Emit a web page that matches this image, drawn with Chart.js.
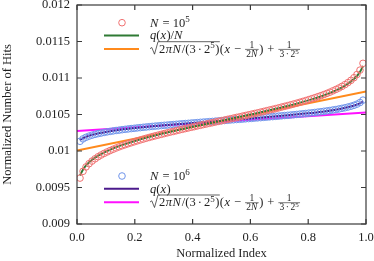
<!DOCTYPE html>
<html><head><meta charset="utf-8">
<script src="https://cdn.jsdelivr.net/npm/chart.js@4"></script>
<style>html,body{margin:0;padding:0;background:#fff;}canvas{display:block;}</style>
</head><body>
<canvas id="c" width="374" height="261"></canvas>
<script>
// ---- data ----
const binCount = 96;
const hitsN1e5 = [0.009629,0.009722,0.009782,0.009826,0.009862,0.009893,0.009921,0.009945,0.009967,0.009987,
0.010006,0.010024,0.010041,0.010057,0.010072,0.010086,0.010100,0.010113,0.010126,0.010139,
0.010151,0.010163,0.010175,0.010186,0.010197,0.010208,0.010218,0.010228,0.010239,0.010249,
0.010259,0.010268,0.010278,0.010288,0.010297,0.010307,0.010316,0.010325,0.010334,0.010344,
0.010352,0.010362,0.010370,0.010379,0.010388,0.010397,0.010406,0.010415,0.010424,0.010433,
0.010442,0.010451,0.010460,0.010468,0.010478,0.010486,0.010496,0.010505,0.010514,0.010523,
0.010533,0.010542,0.010552,0.010562,0.010571,0.010581,0.010591,0.010602,0.010612,0.010622,
0.010633,0.010644,0.010655,0.010667,0.010679,0.010691,0.010704,0.010717,0.010730,0.010744,
0.010758,0.010773,0.010789,0.010806,0.010824,0.010843,0.010863,0.010885,0.010909,0.010937,
0.010968,0.011004,0.011048,0.011108,0.011201];
const hitsN1e6 = [0.010133,0.010166,0.010188,0.010204,0.010217,0.010228,0.010238,0.010246,0.010254,0.010262,
0.010268,0.010275,0.010281,0.010286,0.010292,0.010297,0.010302,0.010307,0.010311,0.010316,
0.010320,0.010325,0.010329,0.010333,0.010337,0.010341,0.010344,0.010348,0.010352,0.010355,
0.010359,0.010362,0.010366,0.010369,0.010373,0.010376,0.010379,0.010383,0.010386,0.010389,
0.010393,0.010396,0.010399,0.010402,0.010405,0.010409,0.010412,0.010415,0.010418,0.010421,
0.010425,0.010428,0.010431,0.010434,0.010437,0.010441,0.010444,0.010447,0.010451,0.010454,
0.010457,0.010461,0.010464,0.010468,0.010471,0.010475,0.010478,0.010482,0.010486,0.010489,
0.010493,0.010497,0.010501,0.010505,0.010510,0.010514,0.010519,0.010523,0.010528,0.010533,
0.010538,0.010544,0.010549,0.010555,0.010562,0.010568,0.010576,0.010584,0.010592,0.010602,
0.010613,0.010626,0.010642,0.010664,0.010697];
const qX = [0.01,0.02,0.03,0.05,0.075,0.1,0.15,0.2,0.3,0.4,0.5,0.6,0.7,0.8,0.85,0.9,0.925,0.95,0.97,0.98,0.99];
const qN1e5 = [0.009665,0.009740,0.009796,0.009872,0.009940,0.009992,0.010073,0.010137,0.010242,0.010331,0.010415,
0.010499,0.010588,0.010693,0.010757,0.010838,0.010890,0.010958,0.011034,0.011090,0.011165];
const qN1e6 = [0.010150,0.010175,0.010192,0.010218,0.010242,0.010261,0.010291,0.010314,0.010352,0.010385,0.010415,
0.010445,0.010478,0.010516,0.010539,0.010569,0.010588,0.010612,0.010638,0.010655,0.010680];
const linX = [0, 1];
const linN1e5 = [0.010005, 0.010815];
const linN1e6 = [0.010275, 0.010528];
const xTickLabels = ['0.0','0.2','0.4','0.6','0.8','1.0'];
const yTickLabels = ['0.009','0.0095','0.01','0.0105','0.011','0.0115','0.012'];

// ---- styles ----
const FONT = '"Liberation Serif", "Times New Roman", serif';
const C_RED = '#f07070', C_BLUE = '#6f94ea', C_GREEN = '#2f7a34', C_ORANGE = '#ff8a1c',
      C_PURPLE = '#4b1a8c', C_MAGENTA = '#ff10ff', C_AXIS = '#3a3a3a', C_TEXT = '#1e1e1e';

const idx = hitsN1e5.map((_, i) => (i + 1) / binCount);
const pts = (xs, ys) => ys.map((v, i) => ({x: xs[i], y: v}));

const circle = (data, color) => ({type:'scatter', data, showLine:false, pointStyle:'circle', pointRadius:3.3,
  pointBorderWidth:1, pointBorderColor:color, pointBackgroundColor:'rgba(0,0,0,0)', borderColor:color});
const line = (data, color, mono) => ({type:'line', data, showLine:true, pointRadius:0, borderWidth:2,
  borderColor:color, backgroundColor:color, fill:false, cubicInterpolationMode: mono ? 'monotone' : 'default', tension:0});

function runs(ctx, x, y, list) {
  for (const r of list) {
    const s = r.s || 12.5;
    ctx.font = (r.i ? 'italic ' : '') + s + 'px ' + FONT;
    ctx.fillText(r.t, x, y + (r.dy || 0));
    x += ctx.measureText(r.t).width + (r.g || 0);
  }
  return x;
}
function width(ctx, list) {
  let w = 0;
  for (const r of list) { ctx.font = (r.i ? 'italic ' : '') + (r.s || 12.5) + 'px ' + FONT; w += ctx.measureText(r.t).width + (r.g||0); }
  return w;
}
function frac(ctx, x, y, num, den) {
  const wn = width(ctx, num), wd = width(ctx, den), w = Math.max(wn, wd) + 2.5;
  runs(ctx, x + (w - wn) / 2, y - 4.8, num);
  runs(ctx, x + (w - wd) / 2, y + 4, den);
  ctx.beginPath(); ctx.moveTo(x, y - 3.3); ctx.lineTo(x + w, y - 3.3); ctx.lineWidth = 0.6; ctx.strokeStyle = C_TEXT; ctx.stroke();
  return x + w;
}
function formulaLine(ctx, x, y) {
  const rad = [{t:'2',g:0.5},{t:'π',i:1,g:0.5},{t:'N',i:1,g:1},{t:'/(3',g:2},{t:'·',g:2},{t:'2'},{t:'5',s:9,dy:-4.5,g:0.5},{t:')'}];
  const x0 = x;
  const xs = x0 + 9;
  const xe = runs(ctx, xs, y, rad);
  ctx.beginPath();
  ctx.moveTo(x0, y - 4); ctx.lineTo(x0 + 1.8, y - 5.2); ctx.lineTo(x0 + 4.5, y + 1.5);
  ctx.lineTo(x0 + 8, y - 11); ctx.lineTo(xe + 0.5, y - 11);
  ctx.lineWidth = 0.7; ctx.strokeStyle = C_TEXT; ctx.stroke();
  let xx = runs(ctx, xe + 0.5, y, [{t:'(',g:0.5},{t:'x',i:1,g:4},{t:'−',g:4}]);
  xx = frac(ctx, xx, y, [{t:'1', s:9.5}], [{t:'2', s:9.5},{t:'N', i:1, s:9.5}]);
  xx = runs(ctx, xx + 0.5, y, [{t:')',g:4},{t:'+',g:4}]);
  frac(ctx, xx, y, [{t:'1', s:9.5}], [{t:'3', s:9.5, g:1.5},{t:'·', s:9.5, g:1.5},{t:'2', s:9.5},{t:'5', s:7, dy:-3}]);
}

const decor = {
  id: 'decor',
  afterDraw(chart) {
    const ctx = chart.ctx, a = chart.chartArea, xs = chart.scales.x, ys = chart.scales.y;
    ctx.save();
    ctx.strokeStyle = C_AXIS; ctx.lineWidth = 1.2;
    ctx.strokeRect(a.left, a.top, a.right - a.left, a.bottom - a.top);
    ctx.beginPath();
    xs.ticks.forEach(t => { const px = xs.getPixelForValue(t.value);
      ctx.moveTo(px, a.bottom); ctx.lineTo(px, a.bottom - 5); ctx.moveTo(px, a.top); ctx.lineTo(px, a.top + 5); });
    ys.ticks.forEach(t => { const py = ys.getPixelForValue(t.value);
      ctx.moveTo(a.left, py); ctx.lineTo(a.left + 5, py); ctx.moveTo(a.right, py); ctx.lineTo(a.right - 5, py); });
    ctx.stroke();
    ctx.fillStyle = C_TEXT; ctx.font = '12.5px ' + FONT; ctx.textAlign = 'center'; ctx.textBaseline = 'middle';
    ctx.fillText('Normalized Index', (a.left + a.right) / 2, 254);
    ctx.save(); ctx.translate(7.5, (a.top + a.bottom) / 2); ctx.rotate(-Math.PI / 2);
    ctx.fillText('Normalized Number of Hits', 0, 0); ctx.restore();
    ctx.textAlign = 'left'; ctx.textBaseline = 'alphabetic';
    const groups = [
      {y: 22.7, circ: C_RED, l1: C_GREEN, l2: C_ORANGE, sup: '5', q: [{t:'q',i:1},{t:'('},{t:'x',i:1,g:0.5},{t:')/'},{t:'N',i:1}]},
      {y: 176, circ: C_BLUE, l1: C_PURPLE, l2: C_MAGENTA, sup: '6', q: [{t:'q',i:1},{t:'('},{t:'x',i:1,g:0.5},{t:')'}]}
    ];
    for (const g of groups) {
      ctx.beginPath(); ctx.arc(122, g.y, 3.3, 0, Math.PI * 2); ctx.lineWidth = 1; ctx.strokeStyle = g.circ; ctx.stroke();
      ctx.lineWidth = 2;
      ctx.beginPath(); ctx.moveTo(104, g.y + 12.8); ctx.lineTo(139, g.y + 12.8); ctx.strokeStyle = g.l1; ctx.stroke();
      ctx.beginPath(); ctx.moveTo(104, g.y + 26.3); ctx.lineTo(139, g.y + 26.3); ctx.strokeStyle = g.l2; ctx.stroke();
      ctx.fillStyle = C_TEXT;
      runs(ctx, 150, g.y + 3.8, [{t:'N',i:1,g:1},{t:' = 10'},{t:g.sup,s:9,dy:-5}]);
      runs(ctx, 150, g.y + 16.6, g.q);
      formulaLine(ctx, 150, g.y + 30);
    }
    ctx.restore();
  }
};

new Chart(document.getElementById('c'), {
  data: {
    datasets: [
      circle(pts(idx, hitsN1e5), C_RED),
      line(pts(qX, qN1e5), C_GREEN, true),
      line(pts(linX, linN1e5), C_ORANGE, false),
      circle(pts(idx, hitsN1e6), C_BLUE),
      line(pts(qX, qN1e6), C_PURPLE, true),
      line(pts(linX, linN1e6), C_MAGENTA, false)
    ]
  },
  options: {
    responsive: false, animation: false, devicePixelRatio: 1,
    layout: {padding: {top: 5, right: 8, left: 0, bottom: 0}, autoPadding: false},
    plugins: {legend: {display: false}, tooltip: {enabled: false}},
    scales: {
      x: {type: 'linear', min: 0, max: 1,
        grid: {display: false, drawTicks: false}, border: {display: false},
        ticks: {stepSize: 0.2, padding: 6, color: C_TEXT, font: {family: FONT, size: 12.5},
          callback: (v, i) => xTickLabels[i]},
        afterFit: s => { s.height = 37; s.paddingLeft = 0; s.paddingRight = 0; }},
      y: {type: 'linear', min: 0.009, max: 0.012,
        grid: {display: false, drawTicks: false}, border: {display: false},
        ticks: {stepSize: 0.0005, padding: 7, color: C_TEXT, font: {family: FONT, size: 12.5},
          callback: (v, i) => yTickLabels[i]},
        afterFit: s => { s.width = 77; s.paddingTop = 0; s.paddingBottom = 0; }}
    }
  },
  plugins: [decor]
});
</script>
</body></html>
